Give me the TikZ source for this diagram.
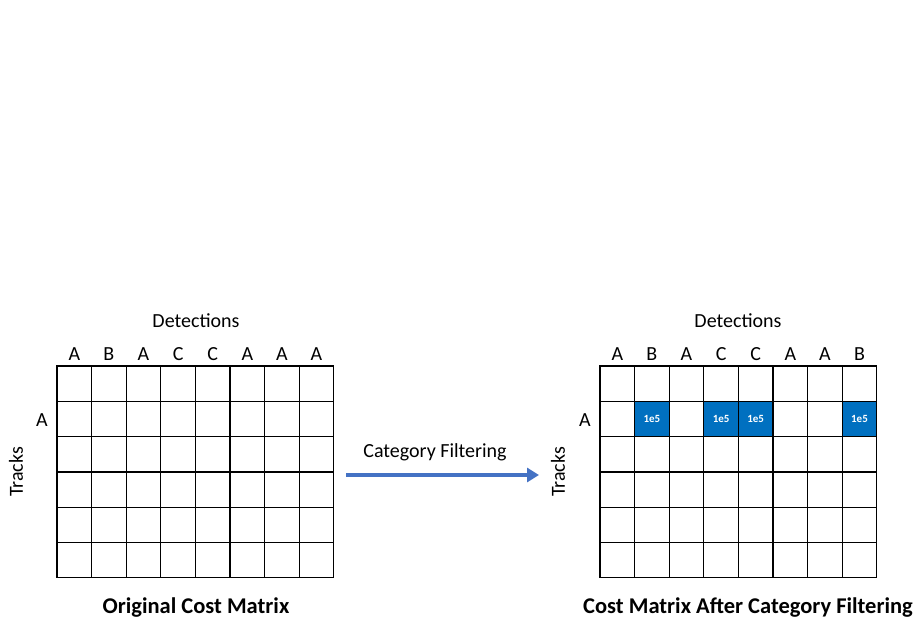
\documentclass[tikz,border=0pt]{standalone}
\usepackage{fontspec}
\setmainfont{Carlito}
\usepackage{xcolor}
\usetikzlibrary{arrows.meta}
\definecolor{cellblue}{HTML}{0070C0}
\definecolor{arrowblue}{HTML}{4472C4}
\begin{document}
\begin{tikzpicture}[x=1pt,y=-1pt,
  lbl/.style={inner sep=0.75pt,font=\fontsize{20}{24}\selectfont},
  cell/.style={draw=black,line width=1.3pt},
  hit/.style={cell,fill=cellblue},
  ttl/.style={inner sep=0.75pt,font=\fontsize{22.5}{26}\selectfont\bfseries}]
\useasboundingbox (0,0) rectangle (916,627);

% Left matrix
\foreach \c in {0,...,7}
  \foreach \r in {0,...,5}
    \draw[cell] (57+\c*34.6,366+\r*35.3) rectangle ++(34.6,35.3);
\foreach \l [count=\i from 0] in {A,B,A,C,C,A,A,A}
  \node[lbl] (lcol\i) at (74.3+\i*34.6,354) {\l};
\node[lbl] (ldet) at (196,321) {Detections};
\node[lbl] (lrow) at (42,420) {A};
\node[lbl,rotate=90] (ltrk) at (16,472) {Tracks};
\node[ttl] (ltitle) at (196,608) {Original Cost Matrix};

% Right matrix
\foreach \c in {0,...,7}
  \foreach \r in {0,...,5}
    \draw[cell] (600+\c*34.6,366+\r*35.3) rectangle ++(34.6,35.3);
\foreach \c in {1,3,4,7}
  \draw[hit] (600+\c*34.6,401.3) rectangle ++(34.6,35.3)
    node[midway,text=white,font=\fontsize{11}{12}\selectfont\bfseries] {1e5};
\foreach \l [count=\i from 0] in {A,B,A,C,C,A,A,B}
  \node[lbl] (rcol\i) at (617.3+\i*34.6,354) {\l};
\node[lbl] (rdet) at (738,321) {Detections};
\node[lbl] (rrow) at (585,420) {A};
\node[lbl,rotate=90] (rtrk) at (558,472) {Tracks};
\node[ttl] (rtitle) at (748,608) {Cost Matrix After Category Filtering};

% Filtering arrow
\coordinate (afrom) at (346,475);
\coordinate (ato) at (539,475);
\draw[arrowblue,line width=4pt,-{Triangle[length=12pt,width=14pt]}] (afrom) -- (ato);
\node[lbl] (flt) at (435,452) {Category Filtering};
\end{tikzpicture}
\end{document}
